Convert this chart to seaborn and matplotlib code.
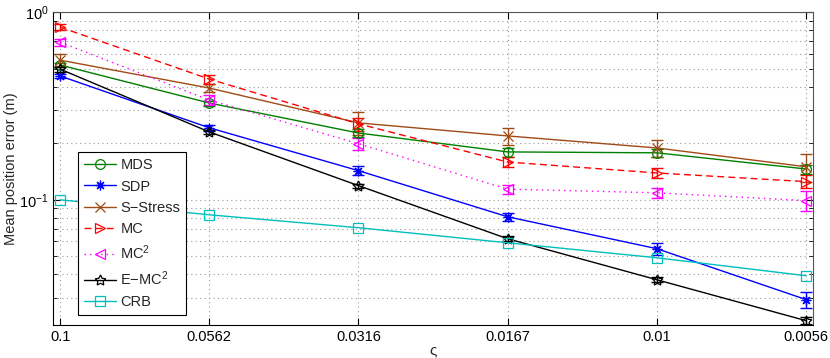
import numpy as np
import pandas as pd
import matplotlib
matplotlib.use("Agg")
import matplotlib.pyplot as plt
import seaborn as sns
from matplotlib.ticker import LogLocator, NullFormatter, FixedLocator

# ---- data ----
sigma_labels = ["0.1", "0.0562", "0.0316", "0.0167", "0.01", "0.0056"]

mds = [0.523, 0.328, 0.227, 0.180, 0.178, 0.146]
mds_err = [0.012, 0.010, 0.012, 0.010, 0.008, 0.008]

sdp = [0.457, 0.242, 0.143, 0.0812, 0.0549, 0.0294]
sdp_err = [0.010, 0.008, 0.008, 0.004, 0.004, 0.003]

sstress = [0.555, 0.394, 0.257, 0.219, 0.189, 0.150]
sstress_err = [0.040, 0.020, 0.035, 0.022, 0.019, 0.025]

mc = [0.832, 0.440, 0.254, 0.159, 0.139, 0.125]
mc_err = [0.030, 0.025, 0.020, 0.010, 0.008, 0.010]

mc2 = [0.692, 0.340, 0.199, 0.114, 0.109, 0.099]
mc2_err = [0.030, 0.020, 0.015, 0.006, 0.007, 0.012]

emc2 = [0.497, 0.230, 0.119, 0.0620, 0.0375, 0.0227]
emc2_err = [0.015, 0.006, 0.003, 0.002, 0.0012, 0.0010]

crb = [0.100, 0.0832, 0.071, 0.059, 0.0491, 0.0394]

series_names = ["MDS", "SDP", "S\u2212Stress", "MC", "MC$^2$", "E\u2212MC$^2$", "CRB"]
series_vals = [mds, sdp, sstress, mc, mc2, emc2, crb]
series_errs = [mds_err, sdp_err, sstress_err, mc_err, mc2_err, emc2_err, None]

colors = ["#008000", "#0000ff", "#a04a14", "#ff0000", "#ff00ff", "#000000", "#00bfbf"]
markers = ["o", (8, 2, 0), "x", ">", "<", (5, 1, 0), "s"]
styles = ["-", "-", "-", (0, (5, 3)), (0, (1, 3)), "-", "-"]

sns.set_style("ticks")
plt.rcParams["font.family"] = ["Liberation Sans", "DejaVu Sans"]
plt.rcParams["mathtext.fontset"] = "custom"
plt.rcParams["mathtext.rm"] = "Liberation Sans"
plt.rcParams["mathtext.it"] = "Liberation Sans"

fig = plt.figure(figsize=(8.3, 3.58), dpi=100)
ax = fig.add_axes([0.064, 0.092, 0.9155, 0.874])

x_idx = np.arange(len(sigma_labels))
rows = []
for name, vals in zip(series_names, series_vals):
    for i, v in zip(x_idx, vals):
        rows.append({"x": i, "y": v, "method": name})
df = pd.DataFrame(rows)

for name, vals, errs, c, m, ls in zip(series_names, series_vals, series_errs, colors, markers, styles):
    sub = df[df["method"] == name]
    if errs is not None:
        ax.errorbar(x_idx, vals, yerr=errs, fmt="none", ecolor=c, elinewidth=1.0,
                    capsize=4.5, capthick=1.0, zorder=2)
    filled = m in ["x", (8, 2, 0)]
    sns.lineplot(data=sub, x="x", y="y", ax=ax, color=c, linestyle=ls, linewidth=1.0,
                 marker=m, markersize=7 if m != (5, 1, 0) else 8,
                 markerfacecolor="none" if not filled else c,
                 markeredgecolor=c, markeredgewidth=0.9, label=name, zorder=3,
                 errorbar=None)

ax.set_yscale("log")
ax.set_ylim(0.0215, 1.0)
ax.set_xlim(-0.047, 5.047)
ax.set_xticks(x_idx)
ax.set_xticklabels(sigma_labels)
ax.yaxis.set_major_locator(FixedLocator([0.1, 1.0]))
ax.yaxis.set_minor_locator(LogLocator(base=10, subs=np.arange(2, 10)))
ax.yaxis.set_minor_formatter(NullFormatter())
ax.set_yticklabels(["$10^{-1}$", "$10^{0}$"])

ax.grid(True, which="major", axis="both", linestyle=(0, (1, 3)), color="#999999", linewidth=0.8)
ax.grid(True, which="minor", axis="y", linestyle=(0, (1, 3)), color="#999999", linewidth=0.8)

ax.tick_params(which="both", direction="in", top=True, right=True, labelsize=10.5, colors="#000000")
ax.tick_params(which="major", length=5)
ax.tick_params(which="minor", length=3)
for s in ax.spines.values():
    s.set_color("#555555")
    s.set_linewidth(0.8)
ax.spines["bottom"].set_color("#000000")
ax.spines["left"].set_color("#000000")

ax.set_xlabel("\u03c2", fontsize=11)
ax.set_ylabel("Mean position error (m)", fontsize=10.5)
ax.xaxis.set_label_coords(0.5, -0.058)
ax.yaxis.set_label_coords(-0.046, 0.5)

leg = ax.legend(loc="lower left", bbox_to_anchor=(0.033, 0.032), borderaxespad=0,
                fontsize=10.5, handlelength=2.2, handletextpad=0.3, labelspacing=0.5,
                fancybox=False, framealpha=1, edgecolor="#000000", borderpad=0.4)
leg.get_frame().set_linewidth(0.8)

fig.savefig("out.png", dpi=100)
